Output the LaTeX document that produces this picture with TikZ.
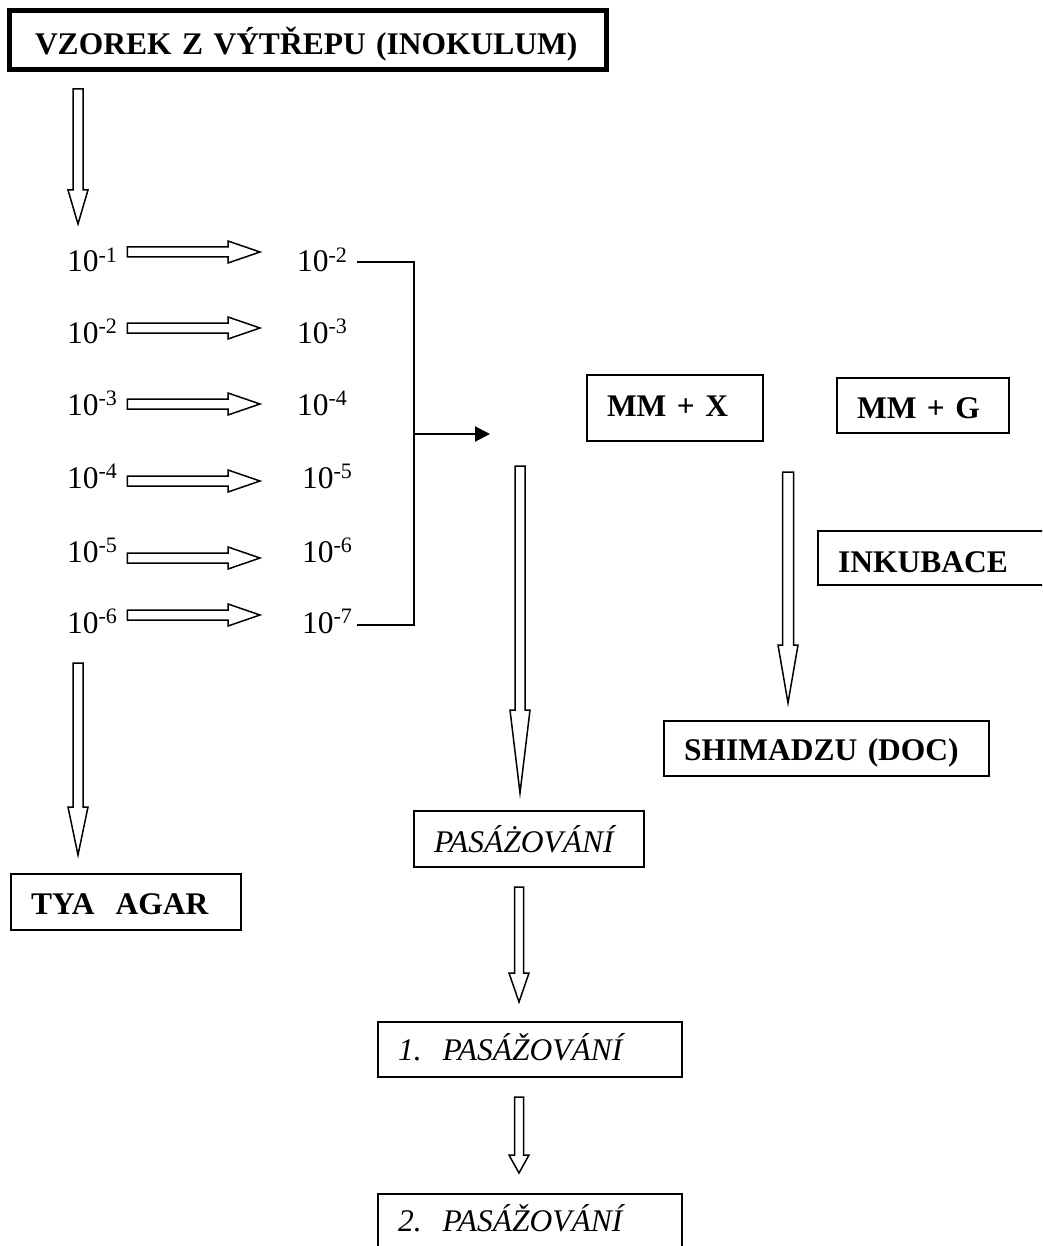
\documentclass[tikz,border=0pt]{standalone}
\usepackage{fontspec}
\setmainfont{Liberation Serif}
\usetikzlibrary{arrows.meta,calc}
\newcommand\fsz{\fontsize{31.5pt}{38pt}\selectfont}

\begin{document}
\begin{tikzpicture}[x=1pt,y=-1pt,
  every node/.style={font=\fsz,inner sep=0pt,outer sep=0pt},
  num/.style={anchor=base west},
  bx/.style={draw,line width=2pt,anchor=north west,inner xsep=20pt,align=left,font=\fsz\bfseries},
  ibx/.style={bx,font=\fsz\itshape},
  ln/.style={line width=2pt},
  blk/.style n args={3}{draw,fill=white,line width=1.5pt,
    to path={($(\tikztotarget)!#1!(\tikztostart)$) coordinate (hdb)
      ($(\tikztostart)!#3!90:(\tikztotarget)$) -- ($(hdb)!#3!90:(\tikztotarget)$)
      -- ($(hdb)!#2!90:(\tikztotarget)$) -- (\tikztotarget)
      -- ($(hdb)!#2!-90:(\tikztotarget)$) -- ($(hdb)!#3!-90:(\tikztotarget)$)
      -- ($(\tikztostart)!#3!-90:(\tikztotarget)$) -- cycle}}]
\useasboundingbox (0,0) rectangle (1042,1246);
\clip (0,0) rectangle (1042,1246);

\node[bx,line width=5pt,inner xsep=25.5pt,text width=546pt,text height=44.5pt,text depth=14.5pt] (title) at (9.5,10.5) {VZOREK Z VÝTŘEPU (INOKULUM)};
\node[bx,text width=190pt,text height=40pt,text depth=16pt] (tya) at (11,874) {TYA\ \ AGAR};
\node[bx,text width=136pt,text height=41pt,text depth=25pt] (mmx) at (587,375) {MM + X};
\node[bx,text width=132pt,text height=40pt,text depth=15pt] (mmg) at (837,378) {MM + G};
\node[bx,text width=200pt,text height=41pt,text depth=13pt] (ink) at (818,531) {INKUBACE};
\node[bx,text width=285pt,text height=39pt,text depth=16pt] (shim) at (664,721) {SHIMADZU (DOC)};
\node[ibx,text width=190pt,text height=41pt,text depth=15pt] (pas0) at (414,811) {PASÁŻOVÁNÍ};
\node[ibx,text width=264pt,text height=38pt,text depth=17pt] (pas1) at (378,1022) {1.\ \ PASÁŽOVÁNÍ};
\node[ibx,text width=264pt,text height=37pt,text depth=23pt] (pas2) at (378,1194) {2.\ \ PASÁŽOVÁNÍ};

\foreach \i/\a/\b/\y/\xr/\gx/\dy in {1/1/2/272/297/37/20, 2/2/3/343/297/37/15, 3/3/4/415/297/37/11,
    4/4/5/488/302/42/7, 5/5/6/562/302/42/4, 6/6/7/633/302/42/18}{
  \node[num] (l\i) at (67,\y) {10\textsuperscript{-\a}};
  \node[num] (r\i) at (\xr,\y) {10\textsuperscript{-\b}};
  \coordinate (ha\i) at ([xshift=10pt,yshift=\dy pt]l\i.base east);
  \coordinate (hz\i) at ([xshift=-\gx pt,yshift=\dy pt]r\i.base west);
  \draw[blk={32pt}{11pt}{5pt}] (ha\i) to (hz\i);
}

\coordinate (jn) at (414,434);
\coordinate (tip) at (490,434);
\draw[ln] ([xshift=9.5pt,yshift=10pt]r1.base east) -| (jn) |- ([xshift=4.5pt,yshift=8pt]r6.base east);
\draw[ln,-{Triangle[length=15pt,width=15pt]}] (jn) -- (tip);

\coordinate (v1a) at ([xshift=68.5pt,yshift=-19.5pt]title.south west);
\coordinate (v1b) at ([xshift=11pt,yshift=48pt]l1.base west);
\coordinate (v2a) at ([xshift=11pt,yshift=-30pt]l6.base west);
\coordinate (v2b) at ([xshift=67pt,yshift=19pt]tya.north west);
\coordinate (vma) at ([xshift=30pt,yshift=-32pt]tip);
\coordinate (vmb) at ([xshift=106pt,yshift=18pt]pas0.north west);
\coordinate (vra) at ([xshift=-49pt,yshift=-39pt]mmg.south west);
\coordinate (vrb) at ([xshift=124pt,yshift=18pt]shim.north west);
\coordinate (p1a) at ([xshift=105pt,yshift=-20pt]pas0.south west);
\coordinate (p1b) at ([xshift=141pt,yshift=20pt]pas1.north west);
\coordinate (p2a) at ([xshift=141pt,yshift=-20pt]pas1.south west);
\coordinate (p2b) at ([xshift=141pt,yshift=21pt]pas2.north west);

\draw[blk={34pt}{10pt}{5pt}] (v1a) to (v1b);
\draw[blk={48pt}{10pt}{5pt}] (v2a) to (v2b);
\draw[blk={83pt}{10pt}{5pt}] (vma) to (vmb);
\draw[blk={58pt}{10pt}{5.5pt}] (vra) to (vrb);
\draw[blk={29pt}{10pt}{4.5pt}] (p1a) to (p1b);
\draw[blk={18pt}{10pt}{4.5pt}] (p2a) to (p2b);
\end{tikzpicture}
\end{document}
